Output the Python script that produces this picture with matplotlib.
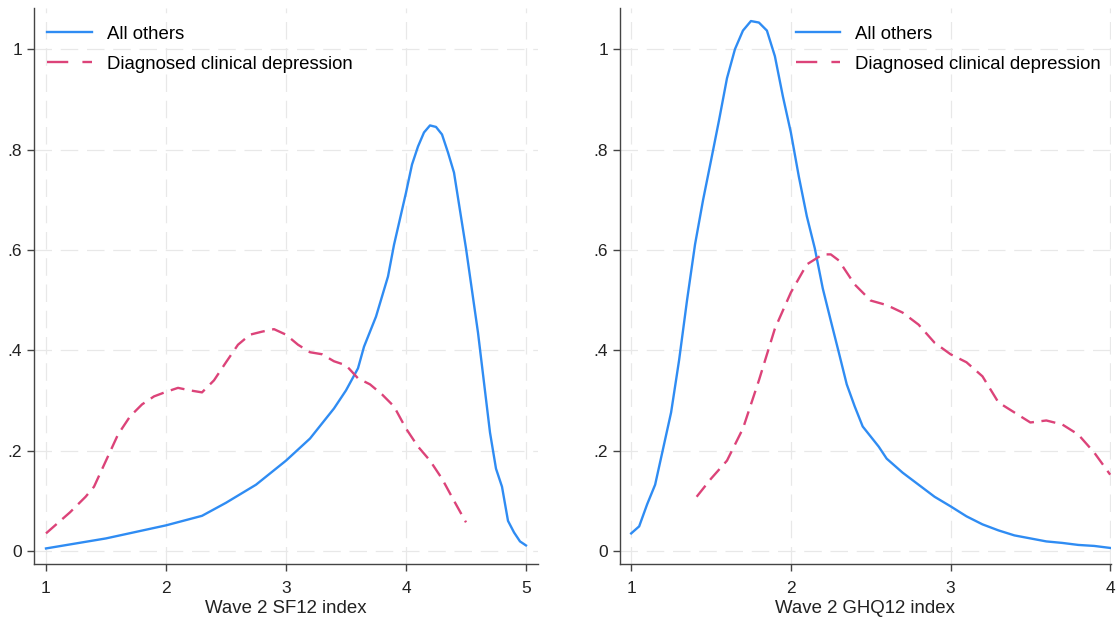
import numpy as np
import matplotlib.pyplot as plt
from matplotlib.lines import Line2D

# Left panel: Wave 2 SF12 index densities
sf12_others_x = [1.0, 1.5, 2.0, 2.3, 2.5, 2.75, 3.0, 3.2, 3.3, 3.4, 3.5, 3.6, 3.65,
                 3.75, 3.85, 3.9, 4.0, 4.05, 4.1, 4.15, 4.2, 4.25, 4.3, 4.35, 4.4,
                 4.5, 4.6, 4.7, 4.75, 4.8, 4.85, 4.9, 4.95, 5.0]
sf12_others_y = [0.005, 0.025, 0.051, 0.07, 0.096, 0.132, 0.18, 0.224, 0.254, 0.284,
                 0.32, 0.364, 0.407, 0.467, 0.547, 0.61, 0.714, 0.77, 0.806, 0.834,
                 0.848, 0.845, 0.83, 0.794, 0.754, 0.603, 0.435, 0.236, 0.164, 0.128,
                 0.06, 0.037, 0.019, 0.011]
sf12_dep_x = [1.0, 1.2, 1.33, 1.4, 1.5, 1.6, 1.7, 1.8, 1.9, 2.0, 2.1, 2.2, 2.3, 2.4,
              2.5, 2.6, 2.7, 2.8, 2.9, 3.0, 3.1, 3.2, 3.3, 3.4, 3.5, 3.6, 3.7, 3.8,
              3.9, 4.0, 4.1, 4.2, 4.3, 4.4, 4.5]
sf12_dep_y = [0.035, 0.077, 0.108, 0.128, 0.18, 0.232, 0.268, 0.292, 0.308, 0.317,
              0.325, 0.32, 0.316, 0.34, 0.376, 0.411, 0.431, 0.437, 0.442, 0.431,
              0.411, 0.396, 0.392, 0.378, 0.37, 0.344, 0.332, 0.312, 0.288, 0.244,
              0.208, 0.18, 0.144, 0.1, 0.057]

# Right panel: Wave 2 GHQ12 index densities
ghq12_others_x = [1.0, 1.05, 1.1, 1.15, 1.2, 1.25, 1.3, 1.35, 1.4, 1.45, 1.5, 1.55,
                  1.6, 1.65, 1.7, 1.75, 1.8, 1.85, 1.9, 1.95, 2.0, 2.05, 2.1, 2.15,
                  2.2, 2.25, 2.3, 2.35, 2.4, 2.45, 2.5, 2.55, 2.6, 2.7, 2.8, 2.9,
                  3.0, 3.1, 3.2, 3.3, 3.4, 3.5, 3.6, 3.7, 3.8, 3.9, 4.0]
ghq12_others_y = [0.035, 0.049, 0.093, 0.132, 0.204, 0.276, 0.38, 0.5, 0.611, 0.699,
                  0.778, 0.858, 0.942, 1.0, 1.037, 1.056, 1.053, 1.037, 0.986, 0.906,
                  0.834, 0.746, 0.667, 0.603, 0.523, 0.459, 0.396, 0.332, 0.288, 0.248,
                  0.228, 0.208, 0.184, 0.156, 0.132, 0.108, 0.089, 0.069, 0.053, 0.041,
                  0.031, 0.025, 0.019, 0.016, 0.012, 0.01, 0.006]
ghq12_dep_x = [1.41, 1.5, 1.6, 1.7, 1.8, 1.9, 2.0, 2.1, 2.2, 2.25, 2.3, 2.4, 2.5, 2.6,
               2.7, 2.8, 2.9, 3.0, 3.1, 3.2, 3.3, 3.4, 3.5, 3.6, 3.7, 3.8, 3.9, 4.0]
ghq12_dep_y = [0.108, 0.144, 0.18, 0.244, 0.34, 0.443, 0.515, 0.571, 0.591, 0.591,
               0.579, 0.531, 0.499, 0.49, 0.475, 0.451, 0.415, 0.392, 0.376, 0.348,
               0.296, 0.276, 0.256, 0.26, 0.252, 0.232, 0.196, 0.152]

labels = ['All others', 'Diagnosed clinical depression']
y_ticks = [0, 0.2, 0.4, 0.6, 0.8, 1.0]
y_ticklabels = ['0', '.2', '.4', '.6', '.8', '1']

blue = '#2f8cf3'
pink = '#dc4379'
lw = 1.7

plt.rcParams['font.family'] = ['Liberation Sans', 'DejaVu Sans']

fig = plt.figure(figsize=(11.17, 6.28), dpi=100)
ax1 = fig.add_axes([34 / 1117, 1 - 564 / 628, 504 / 1117, 556 / 628])
ax2 = fig.add_axes([620 / 1117, 1 - 564 / 628, 491 / 1117, 556 / 628])

panels = [
    (ax1, sf12_others_x, sf12_others_y, sf12_dep_x, sf12_dep_y,
     [1, 2, 3, 4, 5], (0.9, 5.1), 'Wave 2 SF12 index', 0.026),
    (ax2, ghq12_others_x, ghq12_others_y, ghq12_dep_x, ghq12_dep_y,
     [1, 2, 3, 4], (0.93, 4.005), 'Wave 2 GHQ12 index', 0.358),
]

handles = [Line2D([], [], color=blue, lw=lw),
           Line2D([], [], color=pink, lw=lw, dashes=(9, 6))]

for ax, ox, oy, dx, dy, xt, xl, xlabel, leg_x in panels:
    ax.plot(ox, oy, color=blue, lw=lw)
    ax.plot(dx, dy, color=pink, lw=lw, dashes=(6, 3.2))
    ax.set_xlim(*xl)
    ax.set_ylim(-0.026, 1.082)
    ax.set_xticks(xt)
    ax.set_xticklabels([str(t) for t in xt])
    ax.set_yticks(y_ticks)
    ax.set_yticklabels(y_ticklabels)
    ax.set_xlabel(xlabel, color='#222222', fontsize=13.4, labelpad=3)
    ax.grid(True, color='#e8e8e8', lw=0.9, ls=(0, (14, 7)))
    ax.set_axisbelow(True)
    for s in ['top', 'right']:
        ax.spines[s].set_visible(False)
    for s in ['left', 'bottom']:
        ax.spines[s].set_color('#444444')
        ax.spines[s].set_linewidth(1.0)
    ax.tick_params(direction='out', length=5, width=1, color='#444444',
                   labelcolor='#222222', labelsize=12.5)
    ax.tick_params(axis='x', pad=7)
    ax.legend(handles, labels, loc='upper left', bbox_to_anchor=(leg_x, 0.968),
              frameon=False, borderpad=0, borderaxespad=0, handlelength=2.4,
              handletextpad=0.8, labelspacing=0.68, fontsize=13.4)

fig.savefig('out.png', dpi=100)
